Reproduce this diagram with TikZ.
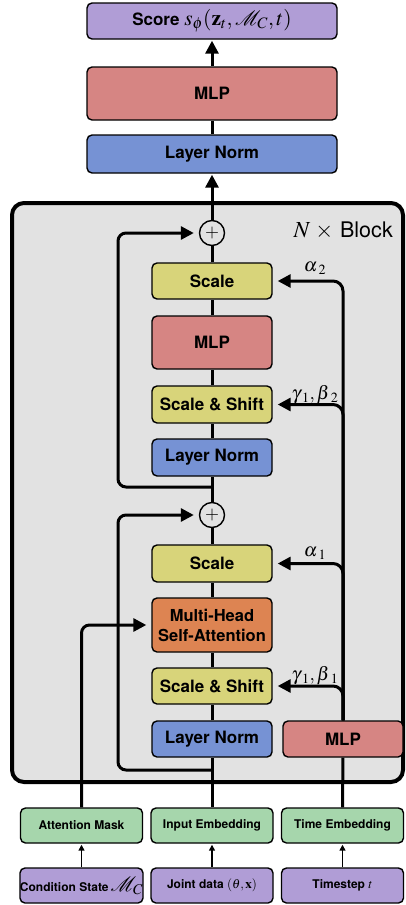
\documentclass[tikz,border=0pt]{standalone}
\usepackage{mathptmx}
\usepackage{mathrsfs}
\usepackage{fontspec}
\setmainfont{TeX Gyre Heros}
\usetikzlibrary{arrows.meta}

\definecolor{cPurple}{RGB}{176,157,214}
\definecolor{cRed}{RGB}{214,133,131}
\definecolor{cBlue}{RGB}{118,146,212}
\definecolor{cYellow}{RGB}{216,212,122}
\definecolor{cOrange}{RGB}{221,132,82}
\definecolor{cGreen}{RGB}{166,214,172}
\definecolor{cBlock}{RGB}{226,226,226}

% math set a little larger than the surrounding sans text
\newcommand{\bigmath}[2]{{\fontsize{#1}{#1}\selectfont$#2$}}

\tikzset{
  box/.style={draw, line width=1.4pt, rounded corners=5pt, inner sep=0pt,
    align=center, font=\fontsize{17}{19}\selectfont\bfseries},
  wide/.style={box, minimum width=250pt},
  mid/.style={box, minimum width=120pt},
  small/.style={box, minimum width=122pt, minimum height=35pt,
    font=\fontsize{12}{14}\selectfont\bfseries},
  conn/.style={line width=3pt},
  arr/.style={line width=3pt, -{Triangle[length=13pt,width=13pt]}},
  thin arr/.style={line width=1.6pt, -{Triangle[length=6pt,width=6pt]}},
  plus/.style={draw, circle, line width=1.4pt, minimum size=25pt, inner sep=0pt,
    font=\fontsize{18}{18}\selectfont},
  lbl/.style={font=\fontsize{19}{19}\selectfont, inner sep=0pt}
}

\begin{document}
\begin{tikzpicture}[x=1pt,y=-1pt]
\useasboundingbox (0,0) rectangle (405,905);

% transformer block background
\draw[line width=4pt, fill=cBlock, rounded corners=12pt] (12,203) rectangle (403,782);
\node[anchor=east, inner sep=0pt, font=\fontsize{21.5}{22}\selectfont] (blk) at (393,231)
  {\bigmath{23}{N}\hspace{5pt}\bigmath{23}{\times}\hspace{7pt}Block};

% output head
\node[wide, fill=cPurple, minimum height=36pt] (score) at (212,21)
  {Score \bigmath{21.5}{s_\phi(\mathbf{z}_t,\mathscr{M}_C,t)}};
\node[wide, fill=cRed, minimum height=53pt] (mlpTop) at (212,93.5) {MLP};
\node[wide, fill=cBlue, minimum height=38pt] (lnTop) at (212,154) {Layer Norm};

% block internals (top half)
\node[plus] (plus2) at (212,233) {$+$};
\node[mid, fill=cYellow, minimum height=36pt] (scale2) at (212,281) {Scale};
\node[mid, fill=cRed, minimum height=53pt] (mlp2) at (212,342.5) {MLP};
\node[mid, fill=cYellow, minimum height=37pt] (ss2) at (212,404.5) {Scale \& Shift};
\node[mid, fill=cBlue, minimum height=37pt] (ln2) at (212,457.5) {Layer Norm};

% block internals (bottom half)
\node[plus] (plus1) at (212,515) {$+$};
\node[mid, fill=cYellow, minimum height=37pt] (scale1) at (212,563.5) {Scale};
\node[mid, fill=cOrange, minimum height=54pt, font=\fontsize{16.5}{20}\selectfont\bfseries] (mhsa) at (212,625) {Multi-Head\\Self-Attention};
\node[mid, fill=cYellow, minimum height=36pt] (ss1) at (212,686) {Scale \& Shift};
\node[mid, fill=cBlue, minimum height=36pt] (ln1) at (212,739) {Layer Norm};
\node[mid, fill=cRed, minimum height=36pt] (mlpT) at (343,739) {MLP};

% inputs
\node[small, fill=cGreen] (am) at (81.5,825.5) {Attention Mask};
\node[small, fill=cGreen] (ie) at (212,825.5) {Input Embedding};
\node[small, fill=cGreen] (te) at (342.5,825.5) {Time Embedding};
\node[small, fill=cPurple] (cs) at (81.5,885.5) {Condition State\hspace{2pt}\bigmath{20}{\mathscr{M}_C}};
\node[small, fill=cPurple] (jd) at (212,885.5) {Joint data \bigmath{13}{(\theta,\mathbf{x})}};
\node[small, fill=cPurple] (ts) at (342.5,885.5) {Timestep \bigmath{13}{t}};

\draw[thin arr, shorten >=1pt] (cs) -- (am);
\draw[thin arr, shorten >=1pt] (jd) -- (ie);
\draw[thin arr, shorten >=1pt] (ts) -- (te);

% main residual stream
\coordinate (br1) at (212,770);
\coordinate (br2) at (212,487);
\draw[conn] (ie) -- (ln1);
\draw[conn] (ln1) -- (ss1);
\draw[conn] (ss1) -- (mhsa);
\draw[conn] (mhsa) -- (scale1);
\draw[conn] (scale1) -- (plus1);
\draw[conn] (plus1) -- (ln2);
\draw[conn] (ln2) -- (ss2);
\draw[conn] (ss2) -- (mlp2);
\draw[conn] (mlp2) -- (scale2);
\draw[conn] (scale2) -- (plus2);
\draw[arr, shorten >=1pt] (plus2) -- (lnTop);
\draw[conn] (lnTop) -- (mlpTop);
\draw[arr, shorten >=1pt] (mlpTop) -- (score);

% skip connections
\draw[arr, rounded corners=8pt, shorten >=5pt] (br1) -- (118,770) |- (plus1);
\draw[arr, rounded corners=8pt, shorten >=5pt] (br2) -- (118,487) |- (plus2);

% attention mask
\draw[arr, rounded corners=8pt, shorten >=5pt] (am.north) |- (mhsa.west);

% time conditioning
\draw[conn] (te) -- (mlpT);
\draw[arr, rounded corners=10pt, shorten >=5pt] (mlpT.north) |- (ss1.east);
\draw[arr, rounded corners=10pt, shorten >=5pt] (mlpT.north) |- (scale1.east);
\draw[arr, rounded corners=10pt, shorten >=5pt] (mlpT.north) |- (ss2.east);
\draw[arr, rounded corners=10pt, shorten >=5pt] (mlpT.north) |- (scale2.east);

\node[lbl] (l1) at (315,676) {$\gamma\mkern1mu_1,\beta\mkern1mu_1$};
\node[lbl] (l2) at (315,553) {$\alpha\mkern1mu_1$};
\node[lbl] (l3) at (315,395) {$\gamma\mkern1mu_1,\beta\mkern1mu_2$};
\node[lbl] (l4) at (315,268) {$\alpha\mkern1mu_2$};
\end{tikzpicture}
\end{document}
